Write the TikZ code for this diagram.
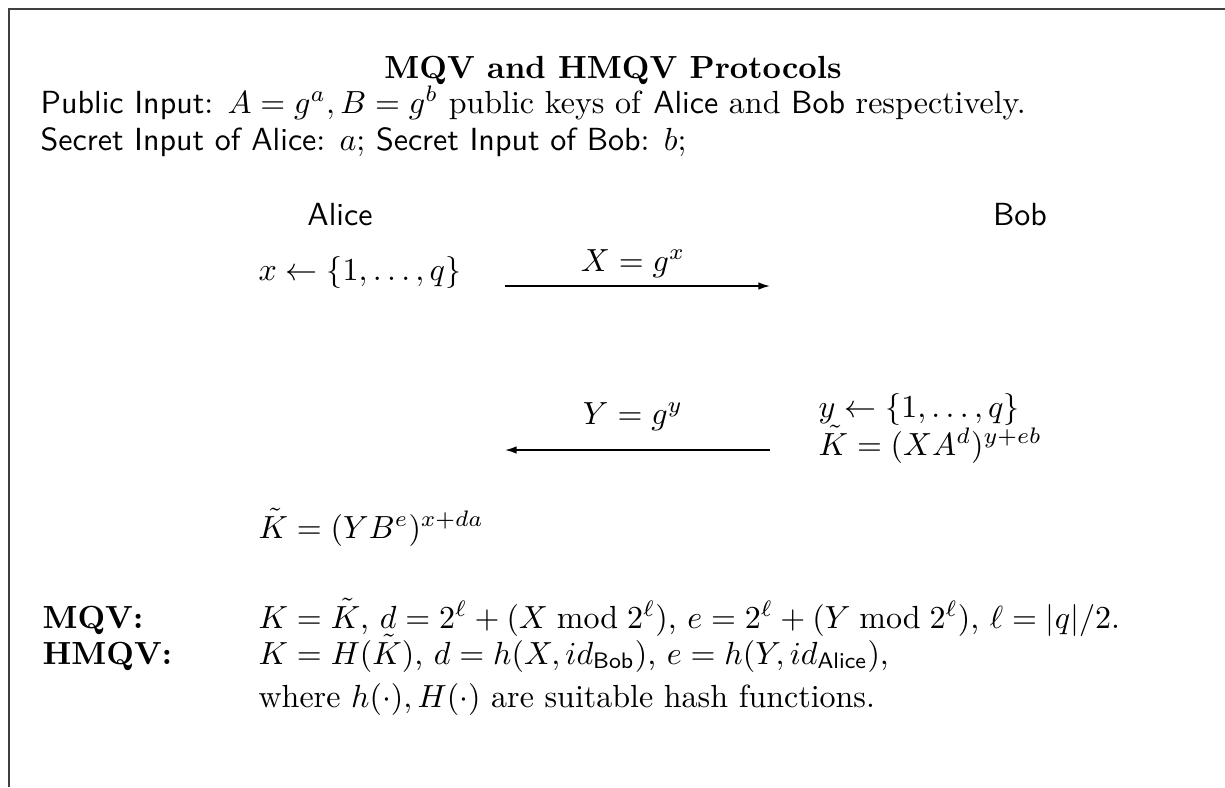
\documentclass[tikz,border=0pt]{standalone}
\usepackage{amsmath,amssymb}
\usepackage{xcolor}
\usepackage{tikz}
\usetikzlibrary{arrows.meta}

\begin{document}
\begin{tikzpicture}[
    x=0.3125pt,
    y=-0.3125pt,
    every node/.style={inner sep=0pt},
    line/.style={anchor=base west},
    party/.style={anchor=base,font=\sffamily},
    msg/.style={-{Latex[length=3.6pt,width=2.3pt]},line width=0.45pt}
  ]
    \useasboundingbox (0,0) rectangle (1225,787);

    % Frame, cut by the page on the right and below.
    \draw[line width=0.6pt,black!75] (9,787) -- (9,9) -- (1225,9);

    % Title and inputs.
    \node[anchor=base,font=\bfseries] (title) at (613,78)
      {MQV and HMQV Protocols};
    \node[line] (pubin) at (40,113)
      {\textsf{Public Input}: $A=g^a, B=g^b$ public keys of \textsf{Alice} and \textsf{Bob} respectively.};
    \node[line] (secin) at (40,150)
      {\textsf{Secret Input of Alice}: $a$; \textsf{Secret Input of Bob}: $b$;};

    % The two parties.
    \node[party] (alice) at (340,225) {Alice};
    \node[party] (bob) at (1020,225) {Bob};

    % First flow, Alice to Bob.
    \node[line] (xpick) at (258,280) {$x \leftarrow \{1,\ldots,q\}$};
    \coordinate (m1a) at (505,286);
    \coordinate (m1b) at (770,286);
    \draw[msg] (m1a) -- (m1b);
    \node[anchor=base] (m1) at (633,271) {$X=g^x$};

    % Second flow, Bob to Alice.
    \node[line] (ypick) at (818,417) {$y \leftarrow \{1,\ldots,q\}$};
    \node[line] (kbob) at (818,455) {$\tilde{K}=(XA^d)^{y+eb}$};
    \coordinate (m2a) at (770,450);
    \coordinate (m2b) at (505,450);
    \draw[msg] (m2a) -- (m2b);
    \node[anchor=base] (m2) at (633,424) {$Y=g^y$};

    \node[line] (kalice) at (258,538) {$\tilde{K}=(YB^e)^{x+da}$};

    % Key derivation of both variants.
    \node[line,font=\bfseries] (mqv) at (42,628) {MQV:};
    \node[line] (mqvk) at (258,628)
      {$K=\tilde{K}$, $d=2^\ell+(X \bmod 2^\ell)$, $e=2^\ell+(Y \bmod 2^\ell)$, $\ell=|q|/2$.};
    \node[line,font=\bfseries] (hmqv) at (42,664) {HMQV:};
    \node[line] (hmqvk) at (258,664)
      {$K=H(\tilde{K})$, $d=h(X,id_{\textsf{Bob}})$, $e=h(Y,id_{\textsf{Alice}})$,};
    \node[line] (hash) at (258,707)
      {where $h(\cdot),H(\cdot)$ are suitable hash functions.};
  \end{tikzpicture}
\end{document}
